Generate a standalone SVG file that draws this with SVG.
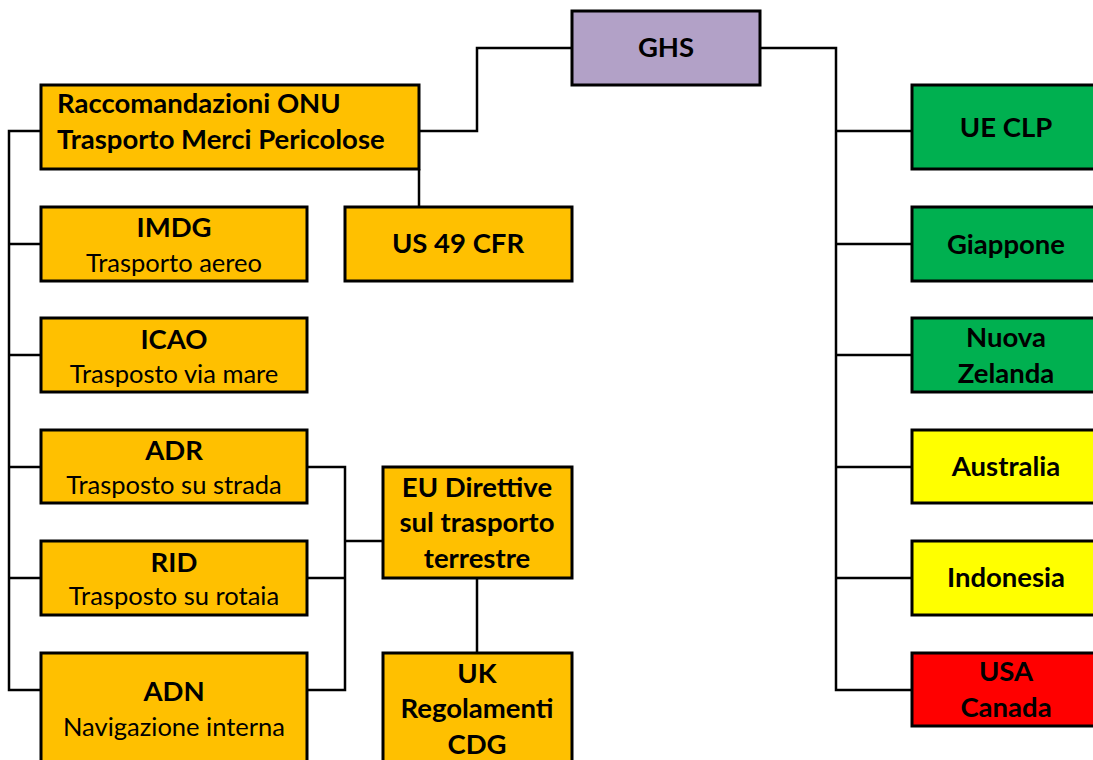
<svg xmlns="http://www.w3.org/2000/svg" width="1093" height="760" viewBox="0 0 1093 760">
<style>
.b{stroke:#000;stroke-width:3}
.o{fill:#FFC000}.p{fill:#B2A1C7}.g{fill:#00B050}.y{fill:#FFFF00}.r{fill:#FF0000}
text{font-family:Lato,"Liberation Sans",sans-serif;font-size:25.5px;fill:#000;text-anchor:middle}
.t{font-weight:bold;font-size:27.5px}
.l{text-anchor:start}
.c{fill:none;stroke:#000;stroke-width:2.5}
</style>
<rect width="1093" height="760" fill="#fff"/>
<g id="connectors">
<polyline class="c" points="419,131 477,131 477,48 572,48"/>
<line class="c" x1="419" y1="169" x2="419" y2="207"/>
<polyline class="c" points="41,131 9,131 9,690 41,690"/>
<line class="c" x1="9" y1="244" x2="41" y2="244"/>
<line class="c" x1="9" y1="355" x2="41" y2="355"/>
<line class="c" x1="9" y1="467" x2="41" y2="467"/>
<line class="c" x1="9" y1="578" x2="41" y2="578"/>
<polyline class="c" points="307,467 345,467 345,690 307,690"/>
<line class="c" x1="307" y1="578" x2="345" y2="578"/>
<line class="c" x1="345" y1="541" x2="383" y2="541"/>
<line class="c" x1="477" y1="578" x2="477" y2="653"/>
<polyline class="c" points="760,48 836,48 836,690 912,690"/>
<line class="c" x1="836" y1="131" x2="912" y2="131"/>
<line class="c" x1="836" y1="244" x2="912" y2="244"/>
<line class="c" x1="836" y1="355" x2="912" y2="355"/>
<line class="c" x1="836" y1="467" x2="912" y2="467"/>
<line class="c" x1="836" y1="578" x2="912" y2="578"/>
</g>
<g id="ghs"><rect class="b p" x="572" y="11" width="188" height="74"/><text class="t" x="666" y="57">GHS</text></g>
<g id="onu"><rect class="b o" x="41" y="85" width="378" height="84"/><text class="t l" x="57" y="113">Raccomandazioni ONU</text><text class="t l" x="57" y="149">Trasporto Merci Pericolose</text></g>
<g id="imdg"><rect class="b o" x="41" y="207" width="266" height="74"/><text class="t" x="174" y="237">IMDG</text><text x="174" y="272">Trasporto aereo</text></g>
<g id="us49"><rect class="b o" x="345" y="207" width="227" height="74"/><text class="t" x="458" y="253">US 49 CFR</text></g>
<g id="icao"><rect class="b o" x="41" y="318" width="266" height="74"/><text class="t" x="174" y="349">ICAO</text><text x="174" y="383">Trasposto via mare</text></g>
<g id="adr"><rect class="b o" x="41" y="430" width="266" height="73"/><text class="t" x="174" y="460">ADR</text><text x="174" y="494">Trasposto su strada</text></g>
<g id="rid"><rect class="b o" x="41" y="541" width="266" height="74"/><text class="t" x="174" y="572">RID</text><text x="174" y="605">Trasposto su rotaia</text></g>
<g id="adn"><rect class="b o" x="41" y="653" width="266" height="120"/><text class="t" x="174" y="701">ADN</text><text x="174" y="736">Navigazione interna</text></g>
<g id="eu"><rect class="b o" x="383" y="467" width="189" height="111"/><text class="t" x="477" y="497">EU Direttive</text><text class="t" x="477" y="532">sul trasporto</text><text class="t" x="477" y="568">terrestre</text></g>
<g id="uk"><rect class="b o" x="383" y="653" width="189" height="120"/><text class="t" x="477" y="683">UK</text><text class="t" x="477" y="718">Regolamenti</text><text class="t" x="477" y="754">CDG</text></g>
<g id="uecl"><rect class="b g" x="912" y="85" width="190" height="84"/><text class="t" x="1006" y="137">UE CLP</text></g>
<g id="giappone"><rect class="b g" x="912" y="207" width="190" height="74"/><text class="t" x="1006" y="254">Giappone</text></g>
<g id="nz"><rect class="b g" x="912" y="318" width="190" height="74"/><text class="t" x="1006" y="347">Nuova</text><text class="t" x="1006" y="383">Zelanda</text></g>
<g id="australia"><rect class="b y" x="912" y="430" width="190" height="73"/><text class="t" x="1006" y="476">Australia</text></g>
<g id="indonesia"><rect class="b y" x="912" y="541" width="190" height="74"/><text class="t" x="1006" y="587">Indonesia</text></g>
<g id="usa"><rect class="b r" x="912" y="653" width="190" height="73"/><text class="t" x="1006" y="681">USA</text><text class="t" x="1006" y="717">Canada</text></g>
</svg>
